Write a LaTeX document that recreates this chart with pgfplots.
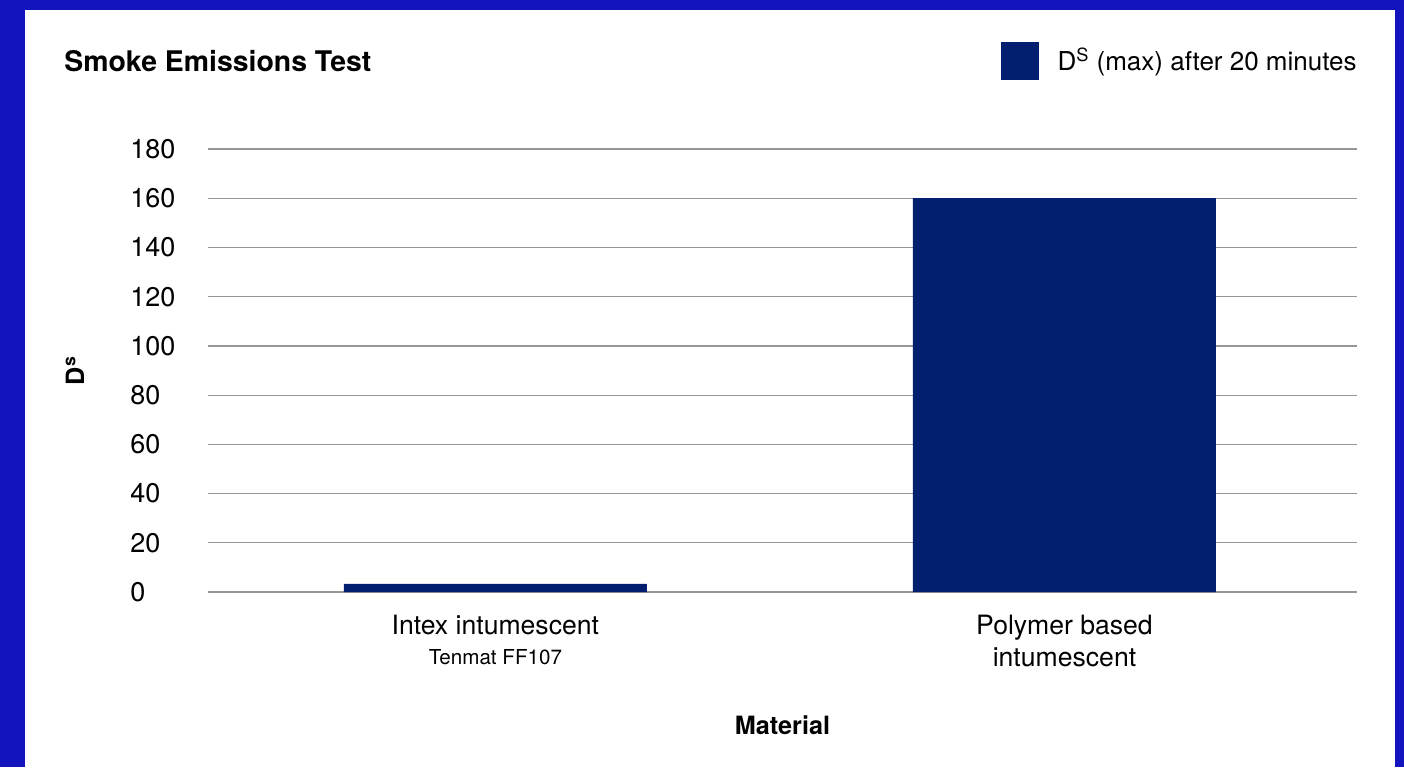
\documentclass[border=0pt]{standalone}
\usepackage{fontspec}
\setmainfont{TeX Gyre Heros}
\usepackage{pgfplots}
\pgfplotsset{compat=1.18}

\definecolor{frameblue}{RGB}{20,20,190}
\definecolor{barnavy}{RGB}{2,30,110}
\definecolor{gridgray}{RGB}{150,150,150}

\begin{document}
\begin{tikzpicture}
% frame: 1 px = 0.5pt, origin at top left
\fill[frameblue] (0pt,0pt) rectangle (702pt,-383.5pt);
\fill[white] (12.5pt,-5pt) rectangle (697.5pt,-383.5pt);

\begin{axis}[
    at={(104pt,-296pt)}, anchor=south west,
    scale only axis,
    width=574.5pt, height=221.5pt,
    xmin=-0.505, xmax=1.514,
    ymin=0, ymax=180,
    ytick={0,20,...,180},
    xtick={0,1},
    xticklabels={{Intex intumescent\\[-1pt]{\fontsize{10.3}{12}\selectfont Tenmat FF107}},{Polymer based\\intumescent}},
    axis line style={draw=none},
    tick style={draw=none},
    ymajorgrids=true,
    major grid style={gridgray, line width=0.6pt},
    /pgf/number format/assume math mode=true,
    yticklabel style={anchor=west, xshift=-39pt, inner sep=0pt,
        font=\fontsize{13.5}{16}\selectfont},
    xticklabel style={anchor=north, yshift=-11.5pt, inner sep=0pt, align=center,
        font=\fontsize{13.3}{16}\selectfont},
    title={Smoke Emissions Test},
    title style={at={(axis description cs:-0.1253,1.147)}, anchor=base west,
        inner sep=0pt, font=\bfseries\fontsize{14.2}{17}\selectfont},
    xlabel={Material},
    xlabel style={at={(axis description cs:0.5,-0.3002)}, anchor=center,
        font=\bfseries\fontsize{12.6}{15}\selectfont},
    ylabel={D\textsuperscript{s}},
    ylabel style={at={(axis description cs:-0.1158,0.5)}, anchor=center, rotate=0,
        font=\bfseries\fontsize{12.6}{15}\selectfont},
    legend style={at={(1,1.2415)}, anchor=north east, draw=none, fill=none,
        inner sep=0pt, font=\fontsize{13}{16}\selectfont,
        nodes={inner sep=0pt},
        /tikz/every odd column/.append style={column sep=9.5pt}},
    legend image code/.code={\fill[barnavy] (0pt,-9.8pt) rectangle (19pt,9.2pt);},
]
\addplot[ybar, fill=barnavy, draw=none, bar width=151.5pt]
    coordinates {(0,3.3) (1,160)};
\addlegendentry{D\textsuperscript{S} (max) after 20 minutes}
\end{axis}
\end{tikzpicture}
\end{document}
